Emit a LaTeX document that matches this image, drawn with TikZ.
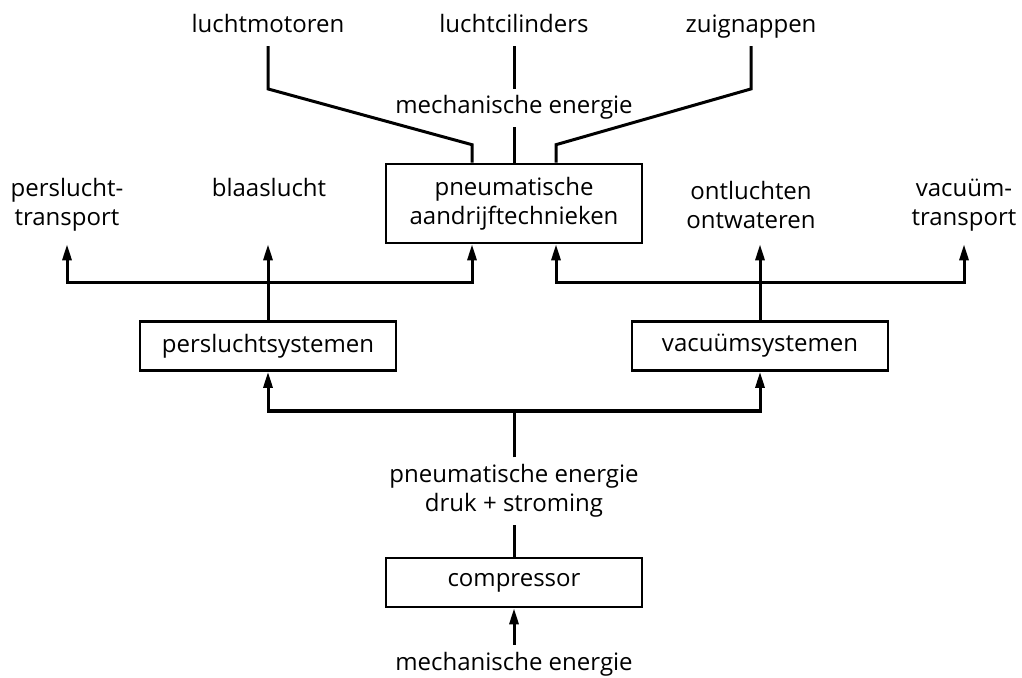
\documentclass[tikz,border=0pt]{standalone}
\usepackage{fontspec}
\setmainfont{Open Sans}
\usetikzlibrary{arrows.meta}

\begin{document}
\begin{tikzpicture}[
    x=0.5pt, y=-0.5pt,
    font=\fontsize{12}{14.5}\selectfont,
    box/.style={rectangle, draw, line width=1.3pt, minimum width=128pt, minimum height=24.5pt, align=center},
    tag/.style={align=center},
    tagline/.style={tag, text height=9pt, text depth=3pt},
    wire/.style={line width=1.5pt},
    arrow/.style={wire, -{Triangle[length=8pt,width=4.5pt]}}
]
    \useasboundingbox (0,0) rectangle (1022,678);

    \node[tagline] (lmot) at (268,27) {luchtmotoren};
    \node[tagline] (lcil) at (514,27) {luchtcilinders};
    \node[tagline] (zuig) at (751,27) {zuignappen};
    \node[tagline] (mtop) at (514,108) {mechanische energie};

    \node[box, minimum height=39.5pt] (pneu) at (514,203.5) {pneumatische\\aandrijftechnieken};
    \node[tag] (ptrans) at (67,205) {perslucht-\\transport};
    \node[tagline] (blaas) at (269,191) {blaaslucht};
    \node[tag] (ontl) at (751,205) {ontluchten\\ontwateren};
    \node[tag] (vtrans) at (964,205) {vacuüm-\\transport};

    \node[box] (persys) at (268,346) {persluchtsystemen};
    \node[box] (vacsys) at (760,346) {vacuümsystemen};

    \node[tag] (pen) at (514,491) {pneumatische energie\\druk + stroming};
    \node[box] (comp) at (514,582.5) {compressor};
    \node[tagline] (mbot) at (514,664) {mechanische energie};

    \coordinate (busl) at (268,283);
    \coordinate (busr) at (760,283);
    \coordinate (busm) at (514,411);

    \draw[wire] (lmot.south) -- (lmot |- mtop.north) -- ([xshift=-21pt,yshift=9pt]pneu.north) -- ([xshift=-21pt]pneu.north);
    \draw[wire] (lcil.south) -- (mtop.north);
    \draw[wire] (mtop.south) -- (pneu.north);
    \draw[wire] (zuig.south) -- (zuig |- mtop.north) -- ([xshift=21pt,yshift=9pt]pneu.north) -- ([xshift=21pt]pneu.north);

    \draw[wire] (persys.north) -- (busl);
    \draw[arrow] (busl) -- (busl |- pneu.south);
    \draw[arrow] (busl) -| (ptrans |- pneu.south);
    \draw[arrow] (busl) -| ([xshift=-21pt]pneu.south);

    \draw[wire] (vacsys.north) -- (busr);
    \draw[arrow] (busr) -- (busr |- pneu.south);
    \draw[arrow] (busr) -| (vtrans |- pneu.south);
    \draw[arrow] (busr) -| ([xshift=21pt]pneu.south);

    \draw[wire] (pen.north) -- (busm);
    \draw[arrow] (busm) -| (persys.south);
    \draw[arrow] (busm) -| (vacsys.south);
    \draw[wire] (comp.north) -- (pen.south);
    \draw[arrow] (mbot.north) -- (comp.south);
\end{tikzpicture}
\end{document}
